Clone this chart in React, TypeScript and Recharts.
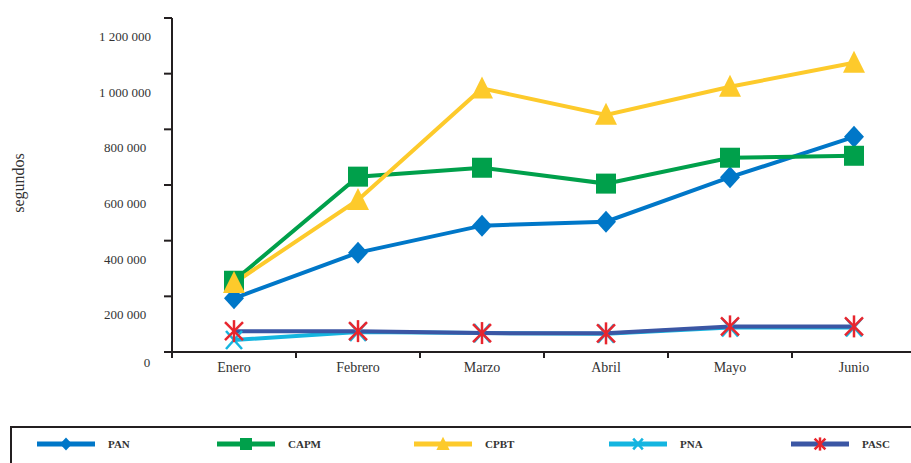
import React from 'react';
import { LineChart, Line, XAxis, YAxis, Legend } from 'recharts';

const months = ['Enero', 'Febrero', 'Marzo', 'Abril', 'Mayo', 'Junio'];
const pan = [193000, 357000, 454000, 468000, 628000, 773000];
const capm = [256000, 630000, 662000, 605000, 698000, 705000];
const cpbt = [248000, 546000, 947000, 852000, 953000, 1039000];
const pna = [43000, 72000, 68000, 66000, 88000, 88000];
const pasc = [75000, 75000, 68000, 67000, 92000, 92000];
const yTicks = [0, 200000, 400000, 600000, 800000, 1000000, 1200000];

const data = months.map((m, i) => ({
  month: m,
  PAN: pan[i],
  CAPM: capm[i],
  CPBT: cpbt[i],
  PNA: pna[i],
  PASC: pasc[i],
}));

const FONT = '"Liberation Serif", "DejaVu Serif", serif';
const AXIS = '#231F20';
const W = 916;
const H = 463;
const LEFT = 172;
const HALF_BAND = (W - LEFT) / months.length / 2;

const fmt = (v: number) => String(v).replace(/\B(?=(\d{3})+(?!\d))/g, ' ');

type Shape = 'diamond' | 'square' | 'triangle' | 'x' | 'asterisk';

const Marker = ({ shape, cx, cy, color, s = 1 }: any) => {
  if (cx == null || cy == null) return null;
  switch (shape as Shape) {
    case 'diamond':
      return (
        <polygon
          points={`${cx},${cy - 11 * s} ${cx + 10 * s},${cy} ${cx},${cy + 11 * s} ${cx - 10 * s},${cy}`}
          fill={color}
        />
      );
    case 'square':
      return <rect x={cx - 10 * s} y={cy - 10 * s} width={20 * s} height={20 * s} fill={color} />;
    case 'triangle':
      return (
        <polygon
          points={`${cx},${cy - 12 * s} ${cx + 11 * s},${cy + 10 * s} ${cx - 11 * s},${cy + 10 * s}`}
          fill={color}
        />
      );
    case 'x':
      return (
        <g stroke={color} strokeWidth={2.5}>
          <line x1={cx - 8 * s} y1={cy - 9 * s} x2={cx + 8 * s} y2={cy + 9 * s} />
          <line x1={cx - 8 * s} y1={cy + 9 * s} x2={cx + 8 * s} y2={cy - 9 * s} />
        </g>
      );
    case 'asterisk':
      return (
        <g stroke={color} strokeWidth={2.5}>
          <line x1={cx} y1={cy - 11 * s} x2={cx} y2={cy + 11 * s} />
          <line x1={cx - 9 * s} y1={cy - 9 * s} x2={cx + 9 * s} y2={cy + 9 * s} />
          <line x1={cx - 9 * s} y1={cy + 9 * s} x2={cx + 9 * s} y2={cy - 9 * s} />
        </g>
      );
  }
  return null;
};

const series = [
  { key: 'PAN', color: '#0077C8', mark: '#0077C8', shape: 'diamond' },
  { key: 'CAPM', color: '#00A04B', mark: '#00A04B', shape: 'square' },
  { key: 'CPBT', color: '#FDCA2B', mark: '#FDCA2B', shape: 'triangle' },
  { key: 'PNA', color: '#14B5E0', mark: '#14B5E0', shape: 'x' },
  { key: 'PASC', color: '#3B56A4', mark: '#E8262E', shape: 'asterisk' },
];

const legendX = [35, 215, 412, 607, 789];

const XTick = ({ x, y, payload, index }: any) => (
  <g>
    <line x1={x - HALF_BAND} y1={y} x2={x - HALF_BAND} y2={y + 6} stroke={AXIS} strokeWidth={2} />
    {index === months.length - 1 && (
      <line x1={x + HALF_BAND} y1={y} x2={x + HALF_BAND} y2={y + 6} stroke={AXIS} strokeWidth={2} />
    )}
    <text x={x} y={y + 20} textAnchor="middle" fontFamily={FONT} fontSize={14} fill="#333">
      {payload.value}
    </text>
  </g>
);

const YTick = ({ x, y, payload }: any) => {
  const zero = payload.value === 0;
  return (
    <text
      x={zero ? x - 17 : x - 39}
      y={zero ? y + 15 : y + 23}
      textAnchor="middle"
      fontFamily={FONT}
      fontSize={13}
      fill="#333"
    >
      {fmt(payload.value)}
    </text>
  );
};

const renderLegend = () => (
  <div
    style={{
      width: 905,
      height: 40,
      border: `2px solid ${AXIS}`,
      boxSizing: 'border-box',
    }}
  >
    <svg width={905} height={36} style={{ display: 'block' }}>
      {series.map((s, i) => {
        const x0 = legendX[i] - 10;
        return (
          <g key={s.key}>
            <line x1={x0} y1={16} x2={x0 + 58} y2={16} stroke={s.color} strokeWidth={5} />
            <Marker shape={s.shape} cx={x0 + 29} cy={16} color={s.mark} s={0.6} />
            <text
              x={x0 + 71}
              y={20}
              fontFamily={FONT}
              fontSize={11}
              fontWeight="bold"
              fill="#333"
            >
              {s.key}
            </text>
          </g>
        );
      })}
    </svg>
  </div>
);

export default function App() {
  return (
    <div
      style={{
        position: 'absolute',
        left: 0,
        top: 0,
        width: 911,
        height: 463,
        overflow: 'hidden',
        background: '#fff',
      }}
    >
      <LineChart width={W} height={H} data={data} margin={{ top: 18, right: 0, left: 0, bottom: 81 }}>
        <XAxis
          dataKey="month"
          interval={0}
          height={30}
          padding={{ left: HALF_BAND, right: HALF_BAND }}
          tickLine={false}
          tickSize={0}
          tickMargin={0}
          axisLine={{ stroke: AXIS, strokeWidth: 2 }}
          tick={<XTick />}
        />
        <YAxis
          width={LEFT}
          domain={[0, 1200000]}
          ticks={yTicks}
          interval={0}
          tickSize={8}
          tickMargin={0}
          tickLine={{ stroke: AXIS, strokeWidth: 2 }}
          axisLine={{ stroke: AXIS, strokeWidth: 2 }}
          tick={<YTick />}
          label={{
            content: () => (
              <text
                x={24}
                y={183}
                transform="rotate(-90 24 183)"
                textAnchor="middle"
                fontFamily={FONT}
                fontSize={16}
                fill="#333"
              >
                segundos
              </text>
            ),
          }}
        />
        <Legend
          verticalAlign="middle"
          align="center"
          layout="horizontal"
          wrapperStyle={{ left: 10, top: 426, width: 905, height: 40 }}
          content={renderLegend}
        />
        {series.map((s) => (
          <Line
            key={s.key}
            dataKey={s.key}
            stroke={s.color}
            strokeWidth={4}
            isAnimationActive={false}
            activeDot={false}
            dot={(p: any) => (
              <Marker key={`${s.key}-${p.index}`} shape={s.shape} cx={p.cx} cy={p.cy} color={s.mark} />
            )}
          />
        ))}
      </LineChart>
    </div>
  );
}
